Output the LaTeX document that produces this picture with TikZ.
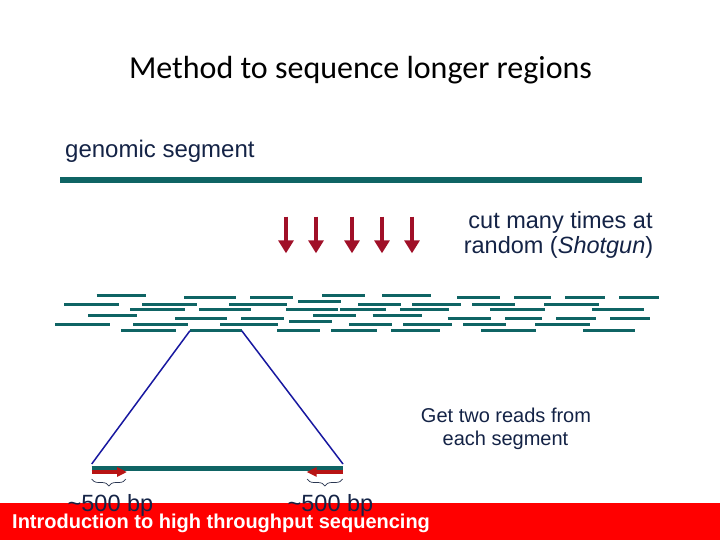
\documentclass[tikz,border=0pt]{standalone}
\usepackage{fontspec}
\setmainfont{Liberation Sans}
\newfontfamily\titlefont{Carlito}
\usetikzlibrary{arrows.meta,decorations.pathreplacing}
\definecolor{teal1}{RGB}{15,100,100}
\definecolor{cutred}{RGB}{160,16,40}
\definecolor{readred}{RGB}{184,20,20}
\definecolor{navy1}{RGB}{20,35,70}
\definecolor{blue1}{RGB}{24,24,160}
\definecolor{bandred}{RGB}{255,0,0}
\begin{document}
\begin{tikzpicture}[x=1pt,y=-1pt,
  txt/.style={text=navy1,inner sep=0pt,font=\fontsize{23.5}{26}\selectfont},
  readbar/.style={draw=teal1,line width=3pt,line cap=butt},
  cutarrow/.style={draw=cutred,line width=4pt,-{Triangle[length=13pt,width=15pt]}},
  matearrow/.style={draw=readred,line width=4pt,-{Triangle[length=10pt,width=9pt]}},
  brc/.style={draw=navy1!80!gray,line width=0.7pt,decorate,decoration={brace,mirror,amplitude=7pt}},
  link/.style={draw=blue1,line width=1.5pt}]
\useasboundingbox (0,0) rectangle (720,540);
\fill[white] (0,0) rectangle (720,540);
% title
\node[anchor=base,inner sep=0pt,font=\titlefont\fontsize{32}{36}\selectfont] (title) at (360.5,79) {Method to sequence longer regions};
% genomic segment
\node[txt,anchor=base west,font=\fontsize{24}{28}\selectfont] (gslabel) at (65,158) {genomic segment};
\coordinate (gs1) at (60,180);
\coordinate (gs2) at (642,180);
\draw[draw=teal1,line width=6.5pt] (gs1) -- (gs2);
% cut arrows
\foreach \x [count=\i] in {286,316,352,382,412}{
  \coordinate (ct\i) at (\x,216.7);
  \coordinate (cb\i) at (\x,253.3);
  \draw[cutarrow] (ct\i) -- (cb\i);
}
\node[txt,anchor=base] (cut1) at (560.5,229) {cut many times at};
\node[txt,anchor=base] (cut2) at (558.5,254) {random (\textit{Shotgun})};
% reads
\foreach \y/\list in {
  295/{96.7/146,322/364.7,382/430.7},
  297.7/{184/235.7,250/292.7,457/499.7,514/550.7,565/604.7,619/658.7},
  301/{298/340.7},
  304/{64/118.7,142/196.7,229/286.7,358/400.7,412/460.7,472/514.7,544/598.7},
  309.7/{130/184.7,199/250.7,286/338,340/385.7,400/448.7,490/544.7,592/643.7},
  315.7/{88/136.7,313/355.7,372.7/421.7},
  318.7/{175/226.7,241/284,447.7/490.7,505/541.7,556/595.7,610/649.7},
  321.7/{289/331.7},
  324.7/{55/110,133/187.7,220/277.7,349/391.7,403/451.7,463/505.7,535/589.7},
  330.7/{121/175.7,277/319.7,331/376.7,391/440,481/535.7,583/634.7}}{
  \foreach \a/\b in \list { \draw[readbar] (\a,\y) -- (\b,\y); }
}
\coordinate (ra) at (190,330.7);
\coordinate (rb) at (241.7,330.7);
\draw[readbar] (ra) -- (rb);
% zoomed segment
\coordinate (ba) at (91.7,464);
\coordinate (bb) at (343,464);
\draw[link] (ra) -- (ba);
\draw[link] (rb) -- (bb);
\coordinate (sa) at (91.7,468);
\coordinate (sb) at (343,468);
\draw[draw=teal1,line width=5pt] (sa) -- (sb);
\coordinate (la) at (91.7,472);
\coordinate (lb) at (127,472);
\coordinate (rra) at (343,472);
\coordinate (rrb) at (306.7,472);
\draw[matearrow] (la) -- (lb);
\draw[matearrow] (rra) -- (rrb);
\coordinate (bra1) at (91.7,479);
\coordinate (bra2) at (126,479);
\coordinate (brb1) at (307,479);
\coordinate (brb2) at (342.7,479);
\draw[brc] (bra1) -- (bra2);
\draw[brc] (brb1) -- (brb2);
\node[txt,anchor=base,font=\fontsize{20}{24}\selectfont] (get1) at (506,422) {Get two reads from};
\node[txt,anchor=base,font=\fontsize{20}{24}\selectfont] (get2) at (505.5,445) {each segment};
% footer
\fill[bandred] (0,503) rectangle (720,540);
\node[txt,anchor=base] (bp1) at (110.5,511) {\textasciitilde500 bp};
\node[txt,anchor=base] (bp2) at (330.5,511) {\textasciitilde500 bp};
\node[anchor=base west,inner sep=0pt,text=white,font=\bfseries\fontsize{20}{24}\selectfont] (footer) at (12,528) {Introduction to high throughput sequencing};
\end{tikzpicture}
\end{document}
